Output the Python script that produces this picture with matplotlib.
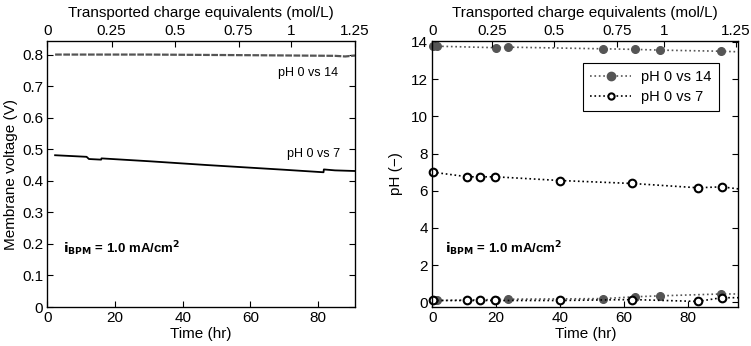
import matplotlib
matplotlib.use("Agg")
import matplotlib.pyplot as plt
import numpy as np

plt.rcParams['font.family'] = ['Liberation Sans Narrow', 'Liberation Sans', 'DejaVu Sans']
plt.rcParams['mathtext.fontset'] = 'custom'
plt.rcParams['mathtext.rm'] = 'Liberation Sans Narrow'
plt.rcParams['mathtext.bf'] = 'Liberation Sans Narrow:bold'

# membrane voltage traces (time in hr)
t_v14 = [2.3, 30, 60, 85, 88, 90.9]
v14 = [0.800, 0.800, 0.798, 0.796, 0.794, 0.797]
t_v7 = [2.3, 11.6, 12.3, 15.9, 16.0, 30, 47, 70, 81.6, 81.7, 85, 90.9]
v7 = [0.481, 0.476, 0.469, 0.467, 0.471, 0.462, 0.450, 0.435, 0.427, 0.436, 0.433, 0.431]

# pH samples, pH 0 vs 14 cell
t_ph14 = [0.3, 1.6, 19.9, 23.8, 53.5, 63.4, 71.2, 90.3, 95.7]
ph14_base = [13.77, 13.77, 13.69, 13.72, 13.63, 13.60, 13.56, 13.50, 13.47]
ph14_acid = [0.10, 0.10, 0.15, 0.17, 0.20, 0.30, 0.35, 0.45, 0.45]
# pH samples, pH 0 vs 7 cell
t_ph7 = [0.1, 11.0, 14.9, 19.7, 40.0, 62.6, 83.0, 90.5, 95.7]
ph7_neut = [7.0, 6.75, 6.75, 6.75, 6.55, 6.39, 6.16, 6.21, 6.10]
ph7_acid = [0.10, 0.10, 0.10, 0.10, 0.10, 0.15, 0.05, 0.25, 0.25]

# top axis: charge labels placed at sampled times
charge_labels = ['0', '0.25', '0.5', '0.75', '1', '1.25']
charge_times_left = [0, 19.0, 37.8, 56.5, 72.0, 90.9]
charge_times_right = [0, 18.8, 38.0, 57.9, 72.5, 95.0]

gray = '#555555'
fs = 11
ibpm = r'$\mathbf{i}_{\mathbf{BPM}}$ = 1.0 mA/cm$^{\mathbf{2}}$'


def style(ax):
    ax.tick_params(direction='in', length=4, labelsize=fs, right=True, top=False, pad=3)
    for s in ax.spines.values():
        s.set_linewidth(0.9)


def top_axis(ax, ticks):
    ax2 = ax.twiny()
    ax2.set_xlim(ax.get_xlim())
    ax2.set_xticks(ticks)
    ax2.set_xticklabels(charge_labels)
    ax2.tick_params(direction='in', length=4, labelsize=fs, pad=2)
    ax2.set_xlabel('Transported charge equivalents (mol/L)', fontsize=fs, labelpad=5)
    return ax2


fig = plt.figure(figsize=(7.51, 3.46), dpi=100)
ax1 = fig.add_axes([0.063, 0.1127, 0.4097, 0.7688])
ax2 = fig.add_axes([0.5756, 0.1127, 0.4075, 0.7688])

# left panel
ax1.plot(t_v14, v14, color=gray, lw=1.6, ls=(0, (3, 0.7)))
ax1.plot(t_v7, v7, color='black', lw=1.3)
ax1.set_xlim(0, 90.9)
ax1.set_ylim(0, 0.843)
ax1.set_xticks([0, 20, 40, 60, 80])
ax1.set_yticks(np.arange(0, 0.81, 0.1))
ax1.set_yticklabels(['0', '0.1', '0.2', '0.3', '0.4', '0.5', '0.6', '0.7', '0.8'])
ax1.set_xlabel('Time (hr)', fontsize=fs, labelpad=1)
ax1.set_ylabel('Membrane voltage (V)', fontsize=fs, labelpad=3)
style(ax1)
ax1.text(86, 0.741, 'pH 0 vs 14', ha='right', va='center', fontsize=9)
ax1.text(86.5, 0.486, 'pH 0 vs 7', ha='right', va='center', fontsize=9)
ax1.text(0.05, 0.22, ibpm, transform=ax1.transAxes, fontsize=9.5,
         fontweight='bold', va='center')
top_axis(ax1, charge_times_left)

# right panel
ax2.plot(t_ph14, ph14_base, ls=':', color=gray, lw=1.2)
ax2.plot(t_ph14[:-1], ph14_base[:-1], ls='none', marker='o', ms=5.5,
         mfc=gray, mec=gray, clip_on=False)
ax2.plot(t_ph14, ph14_acid, ls=':', color=gray, lw=1.2)
ax2.plot(t_ph14[:-1], ph14_acid[:-1], ls='none', marker='o', ms=5.5,
         mfc=gray, mec=gray, clip_on=False)
ax2.plot(t_ph7, ph7_neut, ls=':', color='black', lw=1.2)
ax2.plot(t_ph7[:-1], ph7_neut[:-1], ls='none', marker='o', ms=5.5,
         mfc='white', mec='black', mew=1.5, clip_on=False)
ax2.plot(t_ph7, ph7_acid, ls=':', color='black', lw=1.2)
ax2.plot(t_ph7[:-1], ph7_acid[:-1], ls='none', marker='o', ms=5.5,
         mfc='white', mec='black', mew=1.5, clip_on=False)
ax2.set_xlim(0, 95.7)
ax2.set_ylim(-0.25, 14.05)
ax2.set_xticks([0, 20, 40, 60, 80])
ax2.set_yticks([0, 2, 4, 6, 8, 10, 12, 14])
ax2.set_xlabel('Time (hr)', fontsize=fs, labelpad=1)
ax2.set_ylabel('pH (\u2212)', fontsize=fs, labelpad=6)
style(ax2)
ax2.text(0.042, 0.22, ibpm, transform=ax2.transAxes, fontsize=9.5,
         fontweight='bold', va='center')

h14, = ax2.plot([], [], ls=':', color=gray, lw=1.2, marker='o', ms=6, mfc=gray, mec=gray)
h7, = ax2.plot([], [], ls=':', color='black', lw=1.2, marker='o', ms=4.5,
               mfc='white', mec='black', mew=1.5)
leg = ax2.legend([h14, h7], ['pH 0 vs 14', 'pH 0 vs 7'], loc='upper right',
                 bbox_to_anchor=(0.937, 0.917), fontsize=10.5, fancybox=False,
                 edgecolor='black', framealpha=1, borderpad=0.5,
                 handlelength=2.8, handletextpad=0.7, labelspacing=0.4,
                 borderaxespad=0)
leg.get_frame().set_linewidth(0.8)
top_axis(ax2, charge_times_right)

fig.savefig('out.png', dpi=100)
